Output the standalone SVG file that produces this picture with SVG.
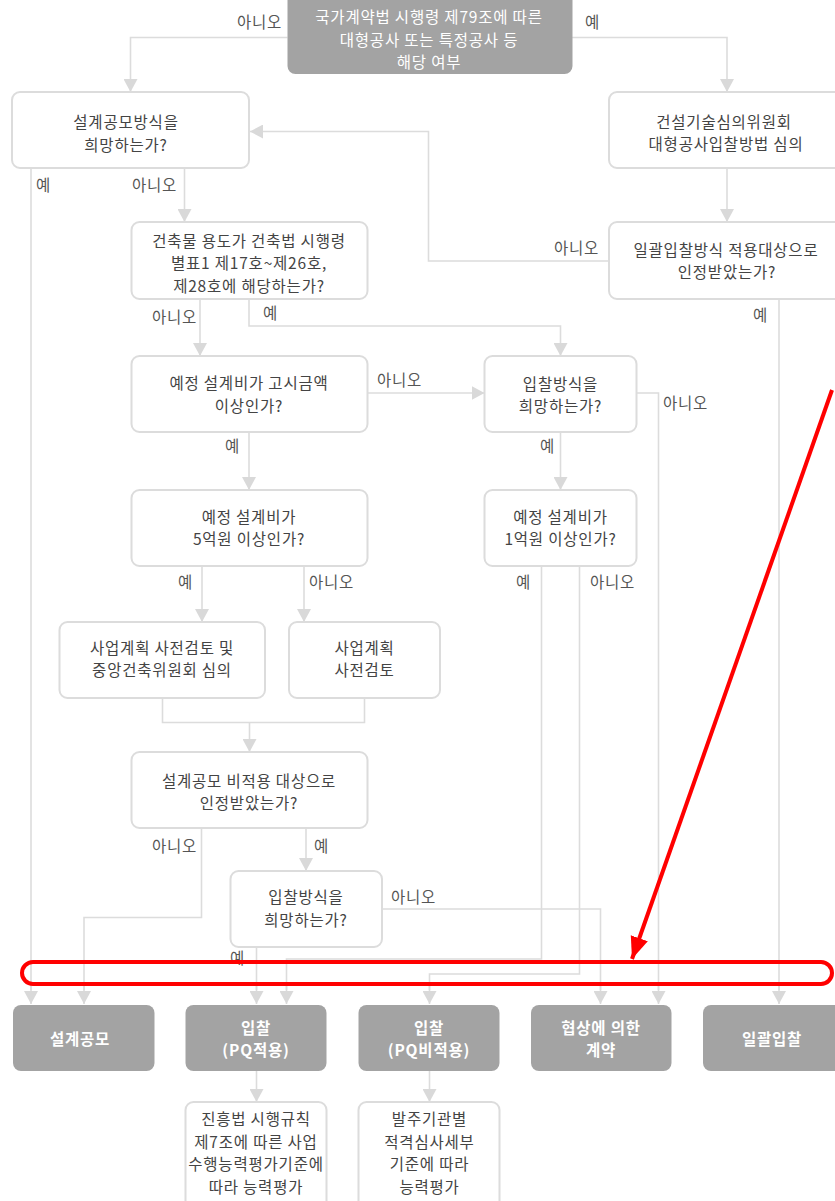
<svg xmlns="http://www.w3.org/2000/svg" width="835" height="1201" viewBox="0 0 835 1201">
<defs>
<style>
.box{fill:#fff;stroke:#dcdcdc;stroke-width:2}
.dark{fill:#a3a3a3;stroke:none}
text{font-family:"Noto Sans CJK KR","Noto Sans",sans-serif;font-size:15.5px;letter-spacing:0.8px}
.t{fill:#444;text-anchor:middle}
.tw{fill:#fff;text-anchor:middle}
.tb{fill:#fff;text-anchor:middle;font-weight:bold}
.lbl{fill:#555}
.ln{fill:none;stroke:#dcdcdc;stroke-width:1.6}
.ah{fill:#d9d9d9}
</style>
<marker id="arr" markerWidth="14" markerHeight="14" refX="13" refY="7" orient="auto" markerUnits="userSpaceOnUse">
<path d="M0,0 L13,7 L0,14 Z" class="ah"/>
</marker>
<marker id="red" markerWidth="24" markerHeight="20" refX="22" refY="10" orient="auto" markerUnits="userSpaceOnUse">
<path d="M0,1 L22,10 L0,19 Z" fill="#f00"/>
</marker>
</defs>

<g id="connectors">
<path class="ln" marker-end="url(#arr)" d="M287.5,37.5 H130.5 V92"/>
<path class="ln" marker-end="url(#arr)" d="M572,37.5 H727 V92"/>
<path class="ln" d="M31,168 V990"/>
<path class="ln" marker-end="url(#arr)" d="M31,985 V1004"/>
<path class="ln" marker-end="url(#arr)" d="M184.5,168 V222"/>
<path class="ln" marker-end="url(#arr)" d="M727,168 V222"/>
<path class="ln" marker-end="url(#arr)" d="M609,261 H428.5 V131.5 H250"/>
<path class="ln" marker-end="url(#arr)" d="M200,299 V356"/>
<path class="ln" marker-end="url(#arr)" d="M249,299 V326 H560.5 V356"/>
<path class="ln" d="M779,299 V990"/>
<path class="ln" marker-end="url(#arr)" d="M779,985 V1004"/>
<path class="ln" marker-end="url(#arr)" d="M367.5,393 H484.5"/>
<path class="ln" d="M636.5,393 H658.5 V990"/>
<path class="ln" marker-end="url(#arr)" d="M658.5,985 V1004"/>
<path class="ln" marker-end="url(#arr)" d="M249,432 V490"/>
<path class="ln" marker-end="url(#arr)" d="M560.5,432 V490"/>
<path class="ln" marker-end="url(#arr)" d="M202,566 V622"/>
<path class="ln" marker-end="url(#arr)" d="M304,566 V622"/>
<path class="ln" d="M541.5,566 V959 H286.5 V990"/>
<path class="ln" marker-end="url(#arr)" d="M286.5,985 V1004"/>
<path class="ln" d="M579.5,566 V974 H429.5 V990"/>
<path class="ln" marker-end="url(#arr)" d="M429.5,985 V1004"/>
<path class="ln" d="M162.5,698 V722.5 H364.5 V698"/>
<path class="ln" marker-end="url(#arr)" d="M249.5,722.5 V752"/>
<path class="ln" d="M201.5,828 V917.5 H84 V990"/>
<path class="ln" marker-end="url(#arr)" d="M84,985 V1004"/>
<path class="ln" marker-end="url(#arr)" d="M306,828 V871"/>
<path class="ln" d="M256.5,947 V990"/>
<path class="ln" marker-end="url(#arr)" d="M256.5,985 V1004"/>
<path class="ln" d="M382,909 H600.5 V990"/>
<path class="ln" marker-end="url(#arr)" d="M600.5,985 V1004"/>
<path class="ln" marker-end="url(#arr)" d="M256.5,1071 V1102"/>
<path class="ln" marker-end="url(#arr)" d="M429.5,1071 V1102"/>
</g>

<g id="labels">
<text class="lbl" x="237" y="28">아니오</text>
<text class="lbl" x="585" y="28">예</text>
<text class="lbl" x="36" y="191">예</text>
<text class="lbl" x="132" y="191">아니오</text>
<text class="lbl" x="554" y="254">아니오</text>
<text class="lbl" x="152" y="323">아니오</text>
<text class="lbl" x="263" y="319">예</text>
<text class="lbl" x="753" y="321">예</text>
<text class="lbl" x="377" y="386">아니오</text>
<text class="lbl" x="663" y="409">아니오</text>
<text class="lbl" x="225" y="452">예</text>
<text class="lbl" x="540" y="452">예</text>
<text class="lbl" x="178" y="588">예</text>
<text class="lbl" x="309" y="588">아니오</text>
<text class="lbl" x="516" y="588">예</text>
<text class="lbl" x="590" y="588">아니오</text>
<text class="lbl" x="152" y="852">아니오</text>
<text class="lbl" x="314" y="852">예</text>
<text class="lbl" x="391" y="903">아니오</text>
<text class="lbl" x="230" y="964">예</text>
</g>

<g id="n-start">
<rect class="dark" x="287.5" y="-10" width="285" height="84" rx="8"/>
<text class="tw" x="429" y="23">국가계약법 시행령 제79조에 따른</text>
<text class="tw" x="429" y="45.5">대형공사 또는 특정공사 등</text>
<text class="tw" x="429" y="68">해당 여부</text>
</g>
<g id="n-design-competition-q">
<rect class="box" x="12" y="92" width="237" height="76" rx="8"/>
<text class="t" x="126" y="128">설계공모방식을</text>
<text class="t" x="126" y="150.5">희망하는가?</text>
</g>
<g id="n-committee">
<rect class="box" x="609" y="92" width="236" height="76" rx="8"/>
<text class="t" x="724" y="127.5">건설기술심의위원회</text>
<text class="t" x="726" y="150">대형공사입찰방법 심의</text>
</g>
<g id="n-building-use">
<rect class="box" x="131.5" y="222" width="236" height="77" rx="8"/>
<text class="t" x="249" y="246.5">건축물 용도가 건축법 시행령</text>
<text class="t" x="249" y="269">별표1 제17호~제26호,</text>
<text class="t" x="249" y="291.5">제28호에 해당하는가?</text>
</g>
<g id="n-turnkey-q">
<rect class="box" x="609" y="222" width="236" height="77" rx="8"/>
<text class="t" x="726" y="255.7">일괄입찰방식 적용대상으로</text>
<text class="t" x="727" y="278.2">인정받았는가?</text>
</g>
<g id="n-notice-amount">
<rect class="box" x="131.5" y="356" width="236" height="76" rx="8"/>
<text class="t" x="249" y="389">예정 설계비가 고시금액</text>
<text class="t" x="249" y="411.5">이상인가?</text>
</g>
<g id="n-bid-q1">
<rect class="box" x="484.5" y="356" width="152" height="76" rx="8"/>
<text class="t" x="560.5" y="389.7">입찰방식을</text>
<text class="t" x="560.5" y="412.2">희망하는가?</text>
</g>
<g id="n-500m">
<rect class="box" x="131.5" y="490" width="236" height="76" rx="8"/>
<text class="t" x="249" y="522.5">예정 설계비가</text>
<text class="t" x="249" y="545">5억원 이상인가?</text>
</g>
<g id="n-100m">
<rect class="box" x="484.5" y="490" width="152" height="76" rx="8"/>
<text class="t" x="560.5" y="522.5">예정 설계비가</text>
<text class="t" x="560.5" y="545">1억원 이상인가?</text>
</g>
<g id="n-review-committee">
<rect class="box" x="59.5" y="622" width="205.5" height="76" rx="8"/>
<text class="t" x="162" y="653.7">사업계획 사전검토 및</text>
<text class="t" x="162" y="676.2">중앙건축위원회 심의</text>
</g>
<g id="n-review">
<rect class="box" x="289" y="622" width="151" height="76" rx="8"/>
<text class="t" x="364.5" y="653.7">사업계획</text>
<text class="t" x="364.5" y="676.2">사전검토</text>
</g>
<g id="n-exempt-q">
<rect class="box" x="131.5" y="752" width="236" height="76" rx="8"/>
<text class="t" x="249" y="786.7">설계공모 비적용 대상으로</text>
<text class="t" x="249" y="809.2">인정받았는가?</text>
</g>
<g id="n-bid-q2">
<rect class="box" x="230.5" y="871" width="151.5" height="76" rx="8"/>
<text class="t" x="306" y="903.2">입찰방식을</text>
<text class="t" x="306" y="925.7">희망하는가?</text>
</g>
<g id="n-design-competition">
<rect class="dark" x="13" y="1005" width="141.5" height="66" rx="8"/>
<text class="tb" x="80" y="1044.5">설계공모</text>
</g>
<g id="n-bid-pq">
<rect class="dark" x="185.5" y="1005" width="141" height="66" rx="8"/>
<text class="tb" x="256" y="1033.5">입찰</text>
<text class="tb" x="256" y="1056">(PQ적용)</text>
</g>
<g id="n-bid-nopq">
<rect class="dark" x="358.5" y="1005" width="141" height="66" rx="8"/>
<text class="tb" x="429" y="1033.5">입찰</text>
<text class="tb" x="429" y="1056">(PQ비적용)</text>
</g>
<g id="n-negotiation">
<rect class="dark" x="531" y="1005" width="140.5" height="66" rx="8"/>
<text class="tb" x="601" y="1033.5">협상에 의한</text>
<text class="tb" x="601" y="1056">계약</text>
</g>
<g id="n-turnkey">
<rect class="dark" x="703" y="1005" width="141" height="66" rx="8"/>
<text class="tb" x="772" y="1044.5">일괄입찰</text>
</g>
<g id="n-pq-eval">
<rect class="box" x="185.5" y="1102" width="141" height="110" rx="8"/>
<text class="t" x="256" y="1125.3">진흥법 시행규칙</text>
<text class="t" x="256" y="1147.8">제7조에 따른 사업</text>
<text class="t" x="256" y="1170.3">수행능력평가기준에</text>
<text class="t" x="256" y="1192.8">따라 능력평가</text>
</g>
<g id="n-nopq-eval">
<rect class="box" x="358.5" y="1102" width="141" height="110" rx="8"/>
<text class="t" x="429.5" y="1125.3">발주기관별</text>
<text class="t" x="429.5" y="1147.8">적격심사세부</text>
<text class="t" x="429.5" y="1170.3">기준에 따라</text>
<text class="t" x="429.5" y="1192.8">능력평가</text>
</g>

<g id="highlight">
<rect x="22" y="962" width="810" height="22" rx="11" fill="none" stroke="#f00" stroke-width="4"/>
<path d="M832,390 L632,959" fill="none" stroke="#f00" stroke-width="4" marker-end="url(#red)"/>
</g>
</svg>
